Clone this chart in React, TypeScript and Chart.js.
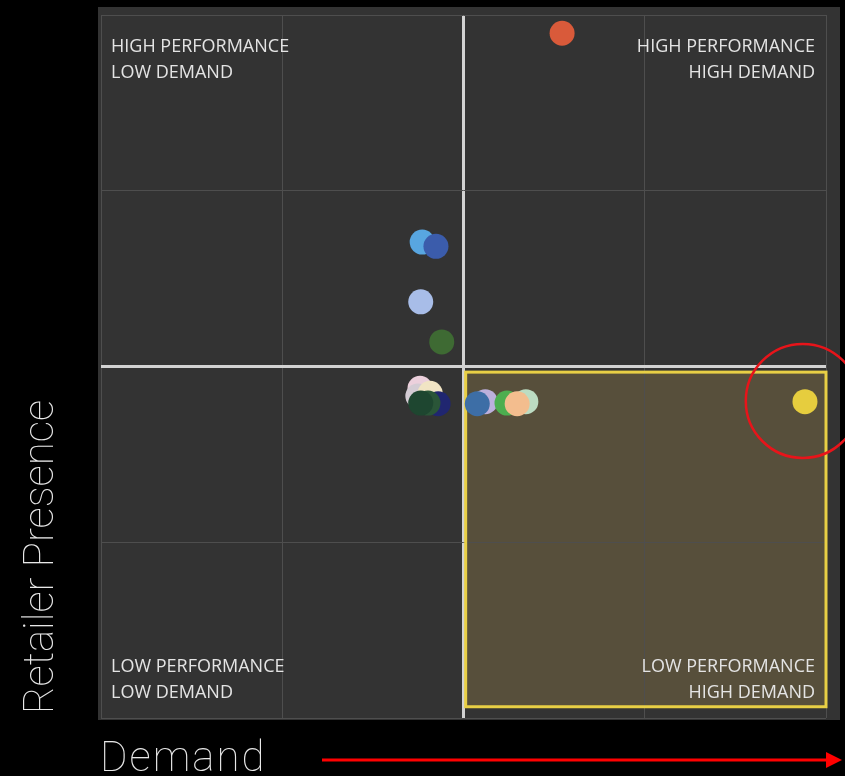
import React, { useEffect, useRef } from "react";
import { Chart, registerables } from "chart.js";

Chart.register(...registerables);

// Demand (x) and Retailer Presence (y) for each product bubble, in drawing order
const demandX = [63.6, 44.3, 46.2, 44.1, 47.0, 44.0, 43.7, 45.4, 46.5, 45.1, 44.1, 53.0, 51.9, 58.6, 56.0, 57.4, 97.1];
const presenceY = [97.4, 67.7, 67.1, 59.2, 53.5, 46.9, 45.8, 46.2, 44.7, 44.8, 44.8, 45.0, 44.7, 45.0, 44.8, 44.7, 45.0];
const pointColors = [
  "#d95a3a", "#58a6e0", "#3b5cab", "#a8bde8", "#3e6a33",
  "#ecd0dc", "#d4ccd4", "#f1e4c4", "#202670", "#2a5538", "#1e4630",
  "#bcb0dc", "#3d6ea6", "#bcdcc2", "#4cae4f", "#f3bd8e", "#e6cd3e",
];

// Axis ranges / ticks
const axisMin = 0;
const axisMax = 100;
const tickStep = 25;
const midValue = 50;

// Highlighted quadrant and the called-out bubble
const highlightX = [50.3, 100];
const highlightY = [1.6, 49.2];
const calloutCenter = [96.8, 45.1];

const quadrantTopLeft = ["HIGH PERFORMANCE", "LOW DEMAND"];
const quadrantTopRight = ["HIGH PERFORMANCE", "HIGH DEMAND"];
const quadrantBottomLeft = ["LOW PERFORMANCE", "LOW DEMAND"];
const quadrantBottomRight = ["LOW PERFORMANCE", "HIGH DEMAND"];
const xTitle = "Demand";
const yTitle = "Retailer Presence";

const LABEL_FONT = '18px "Open Sans", "Noto Sans", sans-serif';
const TITLE_FONT = '100 42px Roboto, Lato, Inter, "DejaVu Sans", sans-serif';

const overlayPlugin = {
  id: "quadrantOverlay",
  beforeDraw(chart: any) {
    const { ctx, chartArea: ca, scales } = chart;
    const x = scales.x;
    const y = scales.y;
    ctx.save();
    ctx.fillStyle = "#000000";
    ctx.fillRect(0, 0, chart.width, chart.height);
    ctx.fillStyle = "#333333";
    ctx.fillRect(ca.left - 3, ca.top - 8, ca.right - ca.left + 17, ca.bottom - ca.top + 10);
    const x0 = x.getPixelForValue(highlightX[0]);
    const x1 = x.getPixelForValue(highlightX[1]);
    const y0 = y.getPixelForValue(highlightY[1]);
    const y1 = y.getPixelForValue(highlightY[0]);
    ctx.fillStyle = "#574f3b";
    ctx.fillRect(x0, y0, x1 - x0, y1 - y0);
    ctx.restore();
  },
  beforeDatasetsDraw(chart: any) {
    const { ctx, chartArea: ca, scales } = chart;
    const x = scales.x;
    const y = scales.y;
    ctx.save();
    const x0 = x.getPixelForValue(highlightX[0]);
    const x1 = x.getPixelForValue(highlightX[1]);
    const y0 = y.getPixelForValue(highlightY[1]);
    const y1 = y.getPixelForValue(highlightY[0]);
    ctx.strokeStyle = "#e8cf45";
    ctx.lineWidth = 3;
    ctx.strokeRect(x0, y0, x1 - x0, y1 - y0);

    ctx.fillStyle = "#e4e4e4";
    ctx.font = LABEL_FONT;
    ctx.textBaseline = "alphabetic";
    const lx = ca.left + 10;
    const rx = ca.right - 11;
    const topBase = ca.top + 37;
    const botBase = ca.bottom - 46;
    const lh = 26;
    ctx.textAlign = "left";
    quadrantTopLeft.forEach((t, i) => ctx.fillText(t, lx, topBase + i * lh));
    quadrantBottomLeft.forEach((t, i) => ctx.fillText(t, lx, botBase + i * lh));
    ctx.textAlign = "right";
    quadrantTopRight.forEach((t, i) => ctx.fillText(t, rx, topBase + i * lh));
    quadrantBottomRight.forEach((t, i) => ctx.fillText(t, rx, botBase + i * lh));
    ctx.restore();
  },
  afterDraw(chart: any) {
    const { ctx, chartArea: ca, scales } = chart;
    const x = scales.x;
    const y = scales.y;
    ctx.save();
    // callout circle
    ctx.strokeStyle = "#e8141a";
    ctx.lineWidth = 2.5;
    ctx.beginPath();
    ctx.arc(x.getPixelForValue(calloutCenter[0]), y.getPixelForValue(calloutCenter[1]), 57, 0, Math.PI * 2);
    ctx.stroke();

    // axis titles
    ctx.fillStyle = "#e8e8e8";
    ctx.font = TITLE_FONT;
    ctx.textAlign = "left";
    ctx.textBaseline = "alphabetic";
    (ctx as any).letterSpacing = "2px";
    ctx.fillText(xTitle, ca.left - 1, 771);
    (ctx as any).letterSpacing = "0px";
    ctx.save();
    ctx.translate(53, ca.bottom - 4);
    ctx.rotate(-Math.PI / 2);
    ctx.fillText(yTitle, 0, 0);
    ctx.restore();

    // arrow
    ctx.strokeStyle = "#ff0000";
    ctx.fillStyle = "#ff0000";
    ctx.lineWidth = 3;
    ctx.beginPath();
    ctx.moveTo(322, 760);
    ctx.lineTo(828, 760);
    ctx.stroke();
    ctx.beginPath();
    ctx.moveTo(826, 752);
    ctx.lineTo(842, 760);
    ctx.lineTo(826, 768);
    ctx.closePath();
    ctx.fill();
    ctx.restore();
  },
};

const gridOptions = {
  color: (c: any) => (c.tick && c.tick.value === midValue ? "#d2d2d2" : "#4e4e4e"),
  lineWidth: (c: any) => (c.tick && c.tick.value === midValue ? 3 : 1),
  drawTicks: false,
};

export default function App() {
  const canvasRef = useRef<HTMLCanvasElement | null>(null);

  useEffect(() => {
    document.body.style.margin = "0";
    document.body.style.background = "#000";
    const canvas = canvasRef.current;
    if (!canvas) return;
    const points = demandX.map((v, i) => ({ x: v, y: presenceY[i] }));
    const chart = new Chart(canvas, {
      type: "scatter",
      data: {
        datasets: [
          {
            data: points,
            backgroundColor: pointColors,
            borderWidth: 0,
            pointRadius: 12.5,
            pointHoverRadius: 12.5,
          },
        ],
      },
      options: {
        animation: false,
        responsive: false,
        events: [],
        layout: { padding: { left: 101, right: 19, top: 15, bottom: 58 } },
        plugins: { legend: { display: false }, tooltip: { enabled: false } },
        scales: {
          x: {
            type: "linear",
            min: axisMin,
            max: axisMax,
            ticks: { display: false, stepSize: tickStep, padding: 0 },
            grid: gridOptions as any,
            border: { display: false },
          },
          y: {
            type: "linear",
            min: axisMin,
            max: axisMax,
            ticks: { display: false, stepSize: tickStep, padding: 0 },
            grid: gridOptions as any,
            border: { display: false },
          },
        },
      },
      plugins: [overlayPlugin],
    });
    return () => chart.destroy();
  }, []);

  return (
    <div style={{ width: 845, height: 776, background: "#000" }}>
      <canvas ref={canvasRef} width={845} height={776} style={{ display: "block" }} />
    </div>
  );
}
